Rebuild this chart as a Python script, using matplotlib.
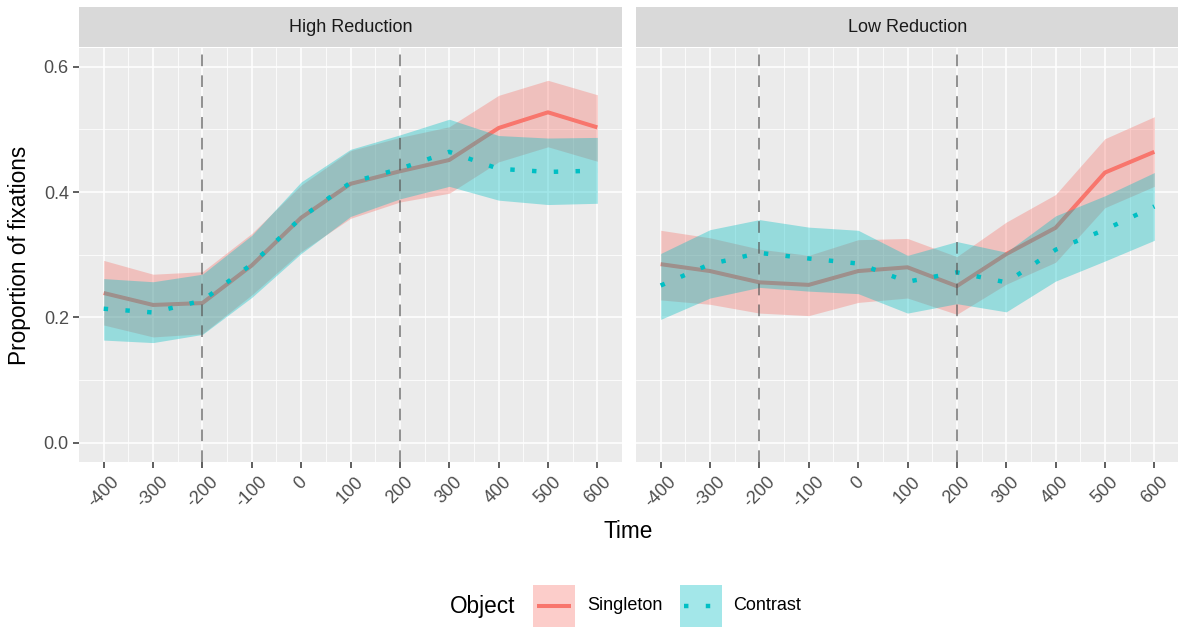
import matplotlib
matplotlib.use("Agg")
import matplotlib.pyplot as plt
from matplotlib.patches import Rectangle
from matplotlib.lines import Line2D

plt.rcParams['font.family'] = ['Liberation Sans', 'DejaVu Sans']

time = [-400, -300, -200, -100, 0, 100, 200, 300, 400, 500, 600]
tick_labels = [str(t) for t in time]
panels = ["High Reduction", "Low Reduction"]
objects = ["Singleton", "Contrast"]

# High Reduction
sing_hi = [0.239, 0.220, 0.223, 0.283, 0.359, 0.413, 0.433, 0.451, 0.502, 0.527, 0.503]
sing_hi_lo = [0.188, 0.169, 0.174, 0.236, 0.305, 0.358, 0.384, 0.398, 0.448, 0.472, 0.449]
sing_hi_up = [0.291, 0.269, 0.273, 0.334, 0.411, 0.466, 0.487, 0.504, 0.554, 0.578, 0.555]
cont_hi = [0.214, 0.208, 0.227, 0.285, 0.359, 0.415, 0.437, 0.464, 0.437, 0.432, 0.434]
cont_hi_lo = [0.164, 0.160, 0.173, 0.232, 0.302, 0.361, 0.389, 0.409, 0.387, 0.380, 0.382]
cont_hi_up = [0.262, 0.257, 0.269, 0.331, 0.416, 0.468, 0.491, 0.516, 0.490, 0.486, 0.487]

# Low Reduction
sing_lo = [0.285, 0.274, 0.256, 0.252, 0.274, 0.280, 0.250, 0.301, 0.343, 0.431, 0.464]
sing_lo_lo = [0.228, 0.221, 0.207, 0.203, 0.224, 0.231, 0.205, 0.253, 0.288, 0.375, 0.409]
sing_lo_up = [0.339, 0.327, 0.309, 0.299, 0.324, 0.326, 0.297, 0.352, 0.396, 0.485, 0.520]
cont_lo = [0.251, 0.285, 0.303, 0.294, 0.286, 0.257, 0.272, 0.256, 0.308, 0.340, 0.377]
cont_lo_lo = [0.197, 0.231, 0.248, 0.242, 0.238, 0.207, 0.222, 0.209, 0.258, 0.290, 0.323]
cont_lo_up = [0.302, 0.340, 0.356, 0.344, 0.339, 0.299, 0.321, 0.304, 0.362, 0.394, 0.431]

vlines = [-200, 200]

data = {
    "High Reduction": dict(s=sing_hi, sl=sing_hi_lo, su=sing_hi_up,
                           c=cont_hi, cl=cont_hi_lo, cu=cont_hi_up),
    "Low Reduction": dict(s=sing_lo, sl=sing_lo_lo, su=sing_lo_up,
                          c=cont_lo, cl=cont_lo_lo, cu=cont_lo_up),
}

RED = "#F8766D"
CYAN = "#00BFC4"
ALPHA = 0.36
W, H = 1178, 627
fig = plt.figure(figsize=(W / 100, H / 100), dpi=100)

def fx(px):
    return px / W

def fy(py):
    return 1 - py / H

panel_x = [79, 636]
panel_w = 543
top, bottom = 48, 462
strip_top, strip_bot = 7, 47
DOTS = (0, (1, 3.9))

for i, name in enumerate(panels):
    d = data[name]
    ax = fig.add_axes([fx(panel_x[i]), fy(bottom), fx(panel_w), (bottom - top) / H])
    ax.set_facecolor("#EBEBEB")
    ax.set_xlim(-450, 650)
    ax.set_ylim(-0.0303, 0.6295)
    for s in ax.spines.values():
        s.set_visible(False)
    ax.set_xticks(time)
    ax.set_xticks([t + 50 for t in time[:-1]], minor=True)
    ax.set_yticks([0.0, 0.2, 0.4, 0.6])
    ax.set_yticks([0.1, 0.3, 0.5], minor=True)
    ax.grid(which="major", color="white", linewidth=1.1)
    ax.grid(which="minor", color="white", linewidth=0.55)
    ax.set_axisbelow(True)
    ax.tick_params(which="minor", length=0)
    ax.tick_params(which="major", axis="x", length=4.3, width=1.1, color="#333333",
                   labelsize=13, labelcolor="#4D4D4D", pad=4)
    ax.set_xticklabels(tick_labels, rotation=45, ha="center", va="top")
    if i == 0:
        ax.tick_params(which="major", axis="y", length=4.3, width=1.1, color="#333333",
                       labelsize=13, labelcolor="#4D4D4D", pad=3)
        ax.set_yticklabels(["0.0", "0.2", "0.4", "0.6"])
    else:
        ax.tick_params(which="major", axis="y", length=0, labelleft=False)

    ax.plot(time, d["s"], color=RED, lw=2.9, solid_capstyle="butt", zorder=2)
    ax.fill_between(time, d["sl"], d["su"], color=RED, alpha=ALPHA, lw=0, zorder=3)
    ax.plot(time, d["c"], color=CYAN, lw=3.2, linestyle=DOTS,
            dash_capstyle="butt", zorder=3.5)
    ax.fill_between(time, d["cl"], d["cu"], color=CYAN, alpha=ALPHA, lw=0, zorder=4)
    for v in vlines:
        ax.axvline(v, color="#555555", alpha=0.75, lw=1.2, linestyle=(0, (7, 5.5)), zorder=5)

    sax = fig.add_axes([fx(panel_x[i]), fy(strip_bot), fx(panel_w), (strip_bot - strip_top) / H])
    sax.set_facecolor("#D9D9D9")
    sax.set_xticks([])
    sax.set_yticks([])
    for s in sax.spines.values():
        s.set_visible(False)
    sax.text(0.5, 0.48, name, ha="center", va="center", fontsize=13, color="#1A1A1A",
             transform=sax.transAxes)

fig.text(fx(628), fy(532), "Time", ha="center", va="center", fontsize=16.3, color="black")
fig.text(fx(20), fy(255), "Proportion of fixations", ha="center", va="center",
         rotation=90, fontsize=16.3, color="black")

# Legend
ly = 606
fig.text(fx(450), fy(ly), "Object", ha="left", va="center", fontsize=16.3, color="black")
key_w, key_h = 42, 42
for k, (x0, col, lab, tx) in enumerate([(533, RED, objects[0], 587), (680, CYAN, objects[1], 733)]):
    fig.patches.append(Rectangle((fx(x0), fy(ly + key_h / 2)), fx(key_w), key_h / H,
                                 transform=fig.transFigure, facecolor=col, alpha=ALPHA,
                                 edgecolor="none"))
    if k == 0:
        fig.lines.append(Line2D([fx(x0 + 4), fx(x0 + key_w - 4)], [fy(ly), fy(ly)],
                                transform=fig.transFigure, color=col, lw=2.9,
                                solid_capstyle="butt"))
    else:
        fig.lines.append(Line2D([fx(x0 + 4), fx(x0 + key_w - 4)], [fy(ly), fy(ly)],
                                transform=fig.transFigure, color=col, lw=3.2,
                                linestyle=DOTS, dash_capstyle="butt"))
    fig.text(fx(tx), fy(ly), lab, ha="left", va="center", fontsize=13, color="black")

fig.savefig("out.png", dpi=100, facecolor="white")
